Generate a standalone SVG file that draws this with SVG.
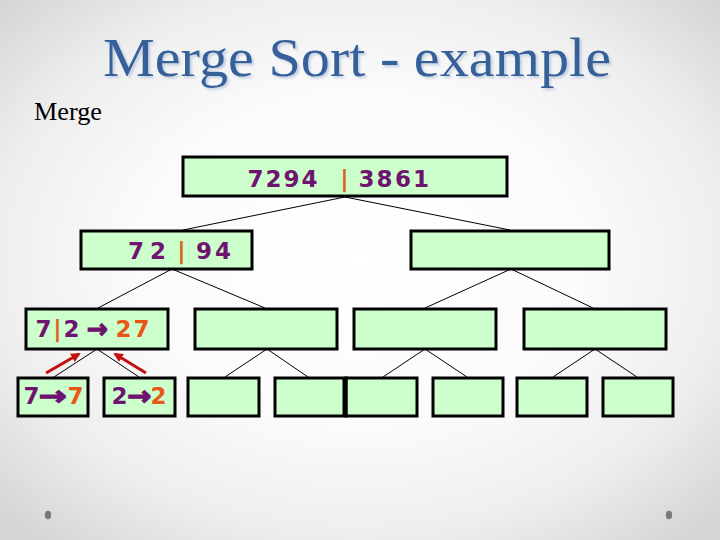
<svg xmlns="http://www.w3.org/2000/svg" width="720" height="540" viewBox="0 0 720 540">
<defs>
<radialGradient id="bg" cx="50%" cy="48%" r="68%">
<stop offset="0" stop-color="#ffffff"/>
<stop offset="0.45" stop-color="#fbfbfb"/>
<stop offset="0.75" stop-color="#eeeeee"/>
<stop offset="1" stop-color="#d6d6d6"/>
</radialGradient>
<filter id="shadow" x="-5%" y="-20%" width="110%" height="140%">
<feDropShadow dx="2" dy="2" stdDeviation="0.8" flood-color="#AFC0D8" flood-opacity="0.7"/>
</filter>
<marker id="redhead" viewBox="0 0 10 10" refX="8" refY="5" markerWidth="3.2" markerHeight="3.2" orient="auto" markerUnits="strokeWidth">
<path d="M0,0 L10,5 L0,10 Z" fill="#C01010"/>
</marker>
</defs>
<style>
.box{fill:#CCFFCC;stroke:#000;stroke-width:3}
.conn line{stroke:#000;stroke-width:1}
.num{font-family:"DejaVu Sans",Verdana,sans-serif;font-weight:bold;font-size:23px;fill:#6E1470}
.arr{font-family:"DejaVu Sans",Verdana,sans-serif;font-weight:bold;font-size:26px;fill:#6E1470;stroke:#6E1470;stroke-width:1.3}
.bar{fill:#D9661F}
.res{fill:#E8561A}
.red{stroke:#C01010;stroke-width:3;marker-end:url(#redhead)}
.title{font-family:"Liberation Serif","Times New Roman",serif;font-size:54px}
</style>
<rect x="0" y="0" width="720" height="540" fill="url(#bg)"/>
<text id="title" class="title" x="103" y="76" textLength="508" lengthAdjust="spacingAndGlyphs" fill="#34609A" filter="url(#shadow)">Merge Sort - example</text>
<text id="subtitle" x="34" y="120" font-family="Liberation Serif,'Times New Roman',serif" font-size="25" textLength="68" lengthAdjust="spacingAndGlyphs" fill="#000">Merge</text>
<g id="connectors" class="conn">
<line x1="345" y1="197" x2="183" y2="230"/>
<line x1="345" y1="197" x2="510" y2="230"/>
<line x1="172" y1="269" x2="98" y2="308"/>
<line x1="172" y1="269" x2="265" y2="308"/>
<line x1="511" y1="269" x2="425" y2="308"/>
<line x1="511" y1="269" x2="593" y2="308"/>
<line x1="97" y1="349" x2="54" y2="377"/>
<line x1="97" y1="349" x2="139" y2="377"/>
<line x1="267" y1="349" x2="225" y2="377"/>
<line x1="267" y1="349" x2="308" y2="377"/>
<line x1="425" y1="349" x2="383" y2="377"/>
<line x1="425" y1="349" x2="467" y2="377"/>
<line x1="595" y1="349" x2="553" y2="377"/>
<line x1="595" y1="349" x2="637" y2="377"/>
</g>
<g id="merge-arrows">
<line class="red" x1="46" y1="373" x2="79" y2="354"/>
<line class="red" x1="146" y1="373" x2="115" y2="354"/>
</g>
<g id="root">
<rect class="box" x="183" y="157" width="324" height="39"/>
<text class="num" y="187"><tspan x="247.5 265.5 283.5 301.5">7294</tspan><tspan class="bar" x="340.3">|</tspan><tspan x="358.5 376.5 395 413">3861</tspan></text>
</g>
<g id="l2-left">
<rect class="box" x="81" y="231" width="171" height="38"/>
<text class="num" y="259"><tspan x="128 150">72</tspan><tspan class="bar" x="177.3">|</tspan><tspan x="196 215">94</tspan></text>
</g>
<g id="l2-right">
<rect class="box" x="411" y="231" width="198" height="38"/>
</g>
<g id="l3-a">
<rect class="box" x="26" y="309" width="142" height="40"/>
<text class="num" y="337"><tspan x="35.5">7</tspan><tspan class="bar" x="53.3">|</tspan><tspan x="63.5">2</tspan><tspan class="res" x="115.5 133.5">27</tspan></text>
<text class="arr" x="87" y="338" textLength="21" lengthAdjust="spacingAndGlyphs">→</text>
</g>
<g id="l3-b">
<rect class="box" x="195" y="309" width="142" height="40"/>
</g>
<g id="l3-c">
<rect class="box" x="354" y="309" width="142" height="40"/>
</g>
<g id="l3-d">
<rect class="box" x="524" y="309" width="142" height="40"/>
</g>
<g id="l4-1">
<rect class="box" x="18" y="378" width="70" height="38"/>
<text class="num" y="404"><tspan x="23.5">7</tspan><tspan class="res" x="67.5">7</tspan></text>
<text class="arr" x="39" y="405" textLength="28" lengthAdjust="spacingAndGlyphs">→</text>
</g>
<g id="l4-2">
<rect class="box" x="104" y="378" width="71" height="38"/>
<text class="num" y="404"><tspan x="111.5">2</tspan><tspan class="res" x="150.5">2</tspan></text>
<text class="arr" x="127.5" y="405" textLength="24" lengthAdjust="spacingAndGlyphs">→</text>
</g>
<g id="l4-3">
<rect class="box" x="188" y="378" width="71" height="38"/>
</g>
<g id="l4-4">
<rect class="box" x="275" y="378" width="71" height="38"/>
</g>
<g id="l4-5">
<rect class="box" x="346" y="378" width="71" height="38"/>
<line x1="345" y1="378" x2="345" y2="416" stroke="#000" stroke-width="5"/>
</g>
<g id="l4-6">
<rect class="box" x="433" y="378" width="70" height="38"/>
</g>
<g id="l4-7">
<rect class="box" x="517" y="378" width="70" height="38"/>
</g>
<g id="l4-8">
<rect class="box" x="603" y="378" width="70" height="38"/>
</g>
<g id="footer">
<ellipse cx="48" cy="515" rx="3.2" ry="4.2" fill="#7A7A7A"/>
<ellipse cx="669" cy="515" rx="3.2" ry="4.2" fill="#7A7A7A"/>
<text x="524" y="513" font-family="Liberation Serif,serif" font-size="11" fill="#ECECEC" text-anchor="middle">34</text>
</g>
</svg>
